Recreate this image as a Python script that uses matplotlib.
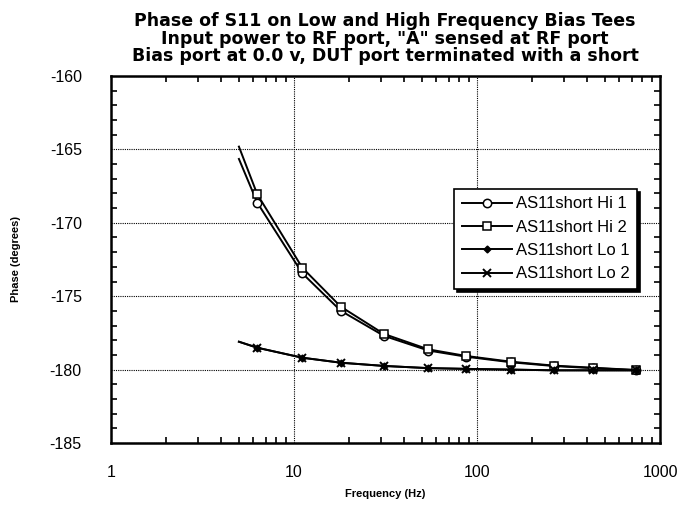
import numpy as np
import matplotlib.pyplot as plt
from matplotlib.ticker import FixedLocator, LogLocator, NullFormatter, MultipleLocator

plt.rcParams['font.family'] = ['Liberation Sans', 'DejaVu Sans']
plt.rcParams['axes.unicode_minus'] = False

# Frequencies (Hz); the first point carries no marker
freq = [5.0, 6.3, 11.1, 18.0, 31.0, 54.2, 87.1, 153.0, 264.0, 429.0, 739.0]

hi1 = [-165.65, -168.63, -173.44, -175.99, -177.70, -178.70, -179.12, -179.50, -179.76, -179.90, -180.03]
hi2 = [-164.81, -168.06, -173.06, -175.71, -177.57, -178.62, -179.07, -179.46, -179.73, -179.87, -180.03]
lo1 = [-178.10, -178.51, -179.19, -179.53, -179.75, -179.90, -179.95, -180.00, -180.05, -180.05, -180.05]
lo2 = [-178.10, -178.51, -179.19, -179.53, -179.75, -179.90, -179.95, -180.00, -180.05, -180.05, -180.05]

labels = ['AS11short Hi 1', 'AS11short Hi 2', 'AS11short Lo 1', 'AS11short Lo 2']

fig = plt.figure(figsize=(6.78, 5.08), dpi=100)
ax = fig.add_axes([111 / 678, 1 - 443 / 508, (660 - 111) / 678, (443 - 76) / 508])

style = dict(color='black', lw=1.4, markevery=slice(1, None))
ax.plot(freq, hi1, marker='o', ms=6, mfc='white', mec='black', mew=1.1, label=labels[0], **style)
ax.plot(freq, hi2, marker='s', ms=6, mfc='white', mec='black', mew=1.1, label=labels[1], **style)
ax.plot(freq, lo1, marker='D', ms=3.5, mfc='black', mec='black', label=labels[2], **style)
ax.plot(freq, lo2, marker='x', ms=6, mew=1.4, mec='black', label=labels[3], **style)

ax.set_xscale('log')
ax.set_xlim(1, 1000)
ax.set_ylim(-185, -160)
ax.xaxis.set_major_locator(FixedLocator([1, 10, 100, 1000]))
ax.set_xticklabels(['1', '10', '100', '1000'])
ax.xaxis.set_minor_locator(LogLocator(base=10, subs=np.arange(2, 10)))
ax.xaxis.set_minor_formatter(NullFormatter())
ax.yaxis.set_major_locator(MultipleLocator(5))
ax.yaxis.set_minor_locator(MultipleLocator(1))

ax.grid(True, which='major', color='black', ls=(0, (1, 1)), lw=0.8)
ax.tick_params(which='both', direction='in', top=True, right=True, color='black')
ax.tick_params(which='major', length=0, labelsize=11.5)
ax.tick_params(which='minor', length=4, width=1.2)
ax.tick_params(axis='y', which='major', pad=21)
ax.tick_params(axis='x', which='major', pad=16)
for sp in ax.spines.values():
    sp.set_linewidth(1.8)

ax.set_xlabel('Frequency (Hz)', fontsize=8, fontweight='bold', labelpad=6)
ax.set_ylabel('Phase (degrees)', fontsize=8, fontweight='bold', labelpad=21)

fig.text(385 / 678, 1 - 12 / 508,
         'Phase of S11 on Low and High Frequency Bias Tees\n'
         'Input power to RF port, "A" sensed at RF port\n'
         'Bias port at 0.0 v, DUT port terminated with a short',
         ha='center', va='top', fontsize=12.5, fontweight='bold', linespacing=0.98,
         family='DejaVu Sans')

leg = ax.legend(loc='upper left', bbox_to_anchor=((454 - 111) / 549, (443 - 189) / 367),
                borderaxespad=0, frameon=True, fancybox=False,
                shadow={'color': 'black', 'alpha': 1, 'ox': 2.5, 'oy': -2.5},
                edgecolor='black', fontsize=12, handlelength=3, borderpad=0.45,
                labelspacing=0.5, handletextpad=0.25)
leg.get_frame().set_linewidth(1.2)

fig.savefig('out.png', dpi=100)
